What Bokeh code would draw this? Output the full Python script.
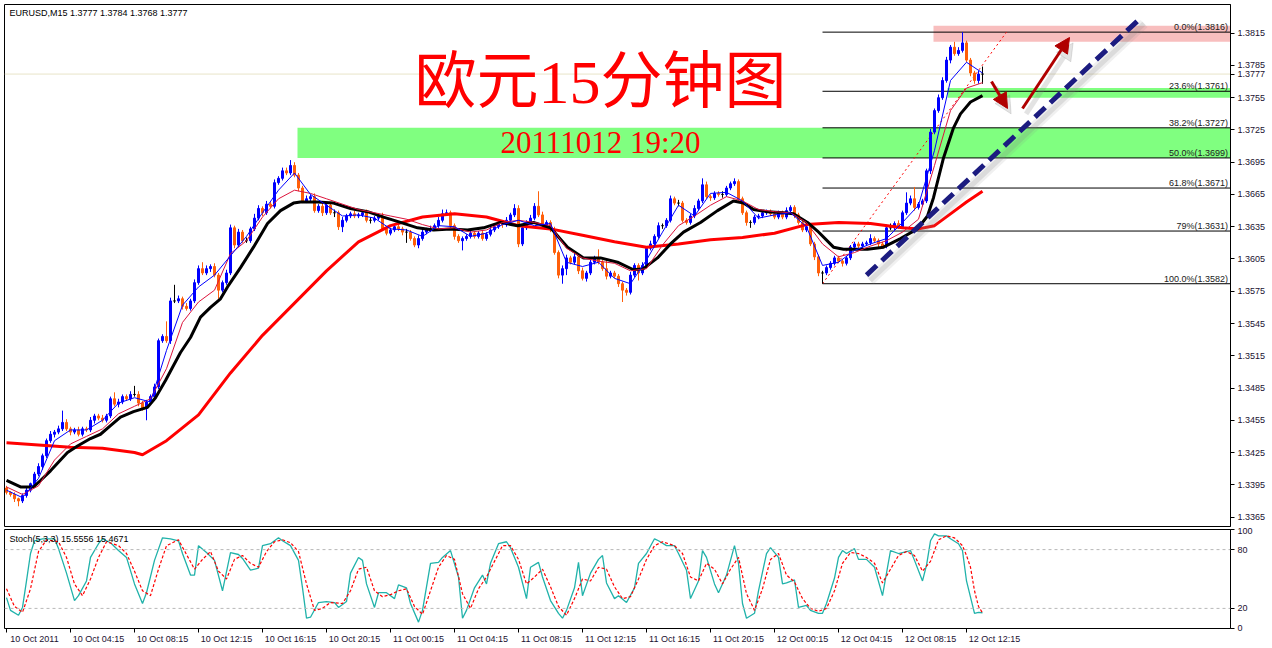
from bokeh.plotting import figure
from bokeh.layouts import column
from bokeh.models import (Range1d, LinearAxis, FixedTicker, PrintfTickFormatter,
                          Span, Label, Arrow, NormalHead)
from bokeh.core.properties import value
from bokeh.embed import file_html
from bokeh.resources import INLINE

# ---------------- data ----------------
chart_header = "EURUSD,M15  1.3777 1.3784 1.3768 1.3777"
stoch_header = "Stoch(5,3,3) 15.5556 15.4671"
title_cn = "欧元15分钟图"
title_time = "20111012 19:20"
last_price = 1.3777

first_open = 1.3392
closes = [
    1.3388, 1.3386, 1.3382, 1.3380, 1.3385, 1.3390, 1.3396, 1.3405, 1.3412, 1.3422,
    1.3436, 1.3442, 1.3444, 1.3447, 1.3453, 1.3447, 1.3444, 1.3446, 1.3442, 1.3447,
    1.3446, 1.3455, 1.3459, 1.3457, 1.3455, 1.3459, 1.3475, 1.3470, 1.3472, 1.3477,
    1.3475, 1.3479, 1.3479, 1.3471, 1.3466, 1.3472, 1.3477, 1.3486, 1.3529, 1.3533,
    1.3529, 1.3566, 1.3566, 1.3568, 1.3561, 1.3559, 1.3566, 1.3583, 1.3596, 1.3592,
    1.3596, 1.3598, 1.3590, 1.3576, 1.3583, 1.3592, 1.3634, 1.3618, 1.3630, 1.3622,
    1.3622, 1.3633, 1.3643, 1.3652, 1.3648, 1.3656, 1.3654, 1.3676, 1.3680, 1.3687,
    1.3685, 1.3692, 1.3683, 1.3671, 1.3659, 1.3661, 1.3663, 1.3650, 1.3654, 1.3648,
    1.3655, 1.3648, 1.3648, 1.3635, 1.3641, 1.3645, 1.3647, 1.3645, 1.3646, 1.3648,
    1.3641, 1.3641, 1.3643, 1.3645, 1.3633, 1.3629, 1.3632, 1.3635, 1.3633, 1.3630,
    1.3630, 1.3624, 1.3618, 1.3624, 1.3630, 1.3632, 1.3633, 1.3636, 1.3641, 1.3647,
    1.3648, 1.3636, 1.3626, 1.3622, 1.3624, 1.3626, 1.3629, 1.3626, 1.3629, 1.3624,
    1.3628, 1.3632, 1.3635, 1.3639, 1.3637, 1.3641, 1.3646, 1.3652, 1.3619, 1.3634,
    1.3639, 1.3643, 1.3654, 1.3646, 1.3636, 1.3639, 1.3632, 1.3611, 1.3590, 1.3596,
    1.3606, 1.3602, 1.3607, 1.3594, 1.3587, 1.3592, 1.3602, 1.3606, 1.3602, 1.3596,
    1.3589, 1.3592, 1.3589, 1.3582, 1.3576, 1.3574, 1.3590, 1.3599, 1.3592, 1.3599,
    1.3615, 1.3619, 1.3626, 1.3636, 1.3636, 1.3641, 1.3661, 1.3657, 1.3657, 1.3641,
    1.3639, 1.3645, 1.3652, 1.3659, 1.3674, 1.3663, 1.3662, 1.3666, 1.3665, 1.3665,
    1.3671, 1.3675, 1.3677, 1.3661, 1.3648, 1.3639, 1.3639, 1.3644, 1.3645, 1.3648,
    1.3649, 1.3647, 1.3644, 1.3648, 1.3644, 1.3650, 1.3653, 1.3646, 1.3639, 1.3632,
    1.3635, 1.3619, 1.3607, 1.3592, 1.3592, 1.3597, 1.3601, 1.3606, 1.3603, 1.3601,
    1.3606, 1.3616, 1.3619, 1.3617, 1.3619, 1.3620, 1.3624, 1.3622, 1.3619, 1.3617,
    1.3634, 1.3634, 1.3638, 1.3635, 1.3648, 1.3657, 1.3661, 1.3653, 1.3656, 1.3659,
    1.3687, 1.3723, 1.3743, 1.3755, 1.3771, 1.3790, 1.3802, 1.3796, 1.3799, 1.3806,
    1.3790, 1.3778, 1.3771, 1.3777, 1.3777,
]
# wick lengths above / below the body, in pips
wick_up = [
    2, 1, 2, 1, 2, 2, 1, 2, 3, 2, 2, 3, 2, 3, 11, 3, 2, 2, 3, 2,
    2, 3, 2, 2, 3, 2, 2, 6, 3, 2, 2, 3, 8, 3, 2, 2, 2, 3, 2, 2,
    14, 3, 15, 3, 2, 3, 2, 3, 3, 6, 3, 2, 3, 2, 2, 3, 3, 2, 3, 2,
    3, 2, 4, 3, 2, 3, 2, 3, 2, 3, 3, 5, 3, 2, 2, 3, 2, 3, 2, 3,
    2, 3, 3, 2, 3, 2, 2, 3, 2, 2, 3, 3, 2, 2, 3, 2, 2, 3, 2, 2,
    3, 2, 2, 3, 2, 2, 3, 2, 3, 4, 3, 2, 2, 2, 2, 2, 3, 2, 2, 2,
    2, 3, 2, 2, 2, 3, 2, 4, 3, 2, 2, 3, 3, 14, 3, 2, 2, 3, 2, 3,
    3, 2, 3, 2, 3, 2, 3, 2, 8, 2, 8, 2, 2, 2, 2, 2, 3, 2, 2, 3,
    2, 3, 2, 3, 2, 2, 3, 2, 3, 2, 2, 2, 3, 2, 6, 3, 2, 2, 2, 3,
    2, 2, 3, 2, 2, 2, 2, 2, 2, 2, 2, 2, 2, 2, 2, 3, 2, 2, 2, 2,
    2, 2, 2, 2, 2, 2, 2, 2, 2, 2, 2, 2, 2, 2, 2, 2, 4, 2, 2, 2,
    3, 4, 2, 3, 2, 10, 3, 11, 2, 2, 2, 3, 2, 3, 3, 3, 2, 5, 3, 10,
    2, 2, 2, 3, 7,
]
wick_dn = [
    2, 2, 3, 5, 2, 2, 2, 2, 2, 3, 2, 2, 3, 2, 2, 2, 3, 2, 2, 2,
    2, 2, 3, 2, 2, 2, 2, 2, 3, 2, 2, 2, 2, 3, 2, 11, 2, 2, 2, 2,
    2, 3, 2, 2, 3, 2, 2, 2, 2, 2, 2, 3, 2, 8, 2, 2, 2, 3, 2, 2,
    2, 2, 2, 2, 3, 2, 2, 2, 2, 2, 2, 2, 2, 3, 2, 2, 3, 2, 2, 3,
    2, 2, 4, 3, 5, 2, 2, 2, 2, 2, 2, 3, 2, 2, 2, 2, 2, 2, 2, 3,
    10, 2, 2, 3, 2, 2, 2, 2, 2, 2, 2, 2, 3, 2, 9, 2, 2, 2, 2, 2,
    2, 2, 2, 2, 3, 2, 2, 2, 3, 2, 2, 2, 2, 2, 2, 2, 2, 2, 3, 8,
    6, 2, 2, 3, 2, 3, 2, 2, 2, 2, 3, 2, 2, 3, 11, 3, 2, 2, 7, 2,
    2, 2, 2, 2, 3, 2, 2, 2, 3, 2, 2, 2, 2, 2, 2, 2, 3, 2, 2, 3,
    2, 2, 2, 2, 2, 3, 5, 2, 2, 2, 2, 2, 2, 2, 2, 2, 2, 3, 2, 2,
    2, 2, 3, 3, 10, 2, 2, 2, 2, 3, 2, 2, 2, 2, 2, 2, 2, 2, 3, 2,
    2, 2, 2, 2, 2, 2, 2, 3, 2, 2, 2, 3, 2, 2, 2, 2, 3, 2, 2, 2,
    2, 3, 3, 3, 9,
]

# moving averages: (bar, price)
ma_red = [(0, 1.3434), (8, 1.3432), (16, 1.3430), (24, 1.3429), (32, 1.3425), (34, 1.3423),
          (40, 1.3436), (48, 1.3460), (56, 1.3499), (64, 1.3534), (72, 1.3564), (80, 1.3594),
          (88, 1.3621), (96, 1.3636), (104, 1.3644), (112, 1.3647), (120, 1.3644), (128, 1.3636),
          (136, 1.3633), (144, 1.3627), (152, 1.3621), (160, 1.3616), (168, 1.3619), (176, 1.3623),
          (184, 1.3625), (192, 1.3629), (200, 1.3637), (208, 1.3639), (216, 1.3638), (224, 1.3634),
          (228, 1.3633), (232, 1.3636), (236, 1.3647), (240, 1.3658), (244, 1.3668)]
ma_black = [(0, 1.3399), (3.5, 1.3393), (6.75, 1.3393), (8.5, 1.3399), (11, 1.3408), (13.5, 1.3418),
            (15.25, 1.3425), (17.75, 1.3431), (21, 1.3438), (23.5, 1.3442), (26, 1.3450), (28.5, 1.3458),
            (31.75, 1.3463), (35.25, 1.3467), (37.25, 1.3476), (39.75, 1.3492), (41.75, 1.3506),
            (43.5, 1.3518), (46, 1.3532), (48.5, 1.3551), (51, 1.3560), (53.5, 1.3568), (55.25, 1.3579),
            (58.5, 1.3597), (61.75, 1.3616), (65.25, 1.3638), (68.5, 1.3650), (71.75, 1.3657),
            (73.5, 1.3658), (77.75, 1.3658), (81.75, 1.3657), (86, 1.3652), (90.25, 1.3649),
            (94.25, 1.3644), (98.5, 1.3639), (102.75, 1.3634), (106.75, 1.3632), (111, 1.3633),
            (115.25, 1.3632), (119.25, 1.3634), (123.5, 1.3639), (127.75, 1.3636), (131.75, 1.3639),
            (136, 1.3634), (140.25, 1.3616), (144.25, 1.3606), (148.5, 1.3606), (152.75, 1.3602),
            (156.75, 1.3595), (159.25, 1.3596), (162.75, 1.3606), (166, 1.3619), (169.25, 1.3630),
            (173.5, 1.3639), (177.75, 1.3650), (181.75, 1.3659), (184.25, 1.3657), (186.75, 1.3651),
            (190.25, 1.3649), (194.25, 1.3648), (196.75, 1.3647), (200.25, 1.3639), (202.75, 1.3631),
            (206.75, 1.3616), (209.25, 1.3614), (215.25, 1.3614), (219.25, 1.3616), (223.5, 1.3624),
            (227.75, 1.3633), (230.25, 1.3645), (231.75, 1.3662), (234.25, 1.3699), (236.75, 1.3727),
            (238.5, 1.3740), (241, 1.3751), (244, 1.3757)]
ma_crimson = [(0, 1.3393), (4, 1.3386), (8, 1.3394), (12, 1.3418), (16, 1.3433), (20, 1.3440),
              (24, 1.3447), (28, 1.3461), (32, 1.3468), (36, 1.3475), (40, 1.3503), (44, 1.3546),
              (48, 1.3565), (52, 1.3576), (56, 1.3610), (60, 1.3622), (64, 1.3644), (68, 1.3661),
              (72, 1.3669), (76, 1.3666), (80, 1.3661), (84, 1.3656), (88, 1.3651), (92, 1.3648),
              (96, 1.3645), (100, 1.3642), (104, 1.3637), (108, 1.3633), (112, 1.3634), (116, 1.3630),
              (120, 1.3632), (124, 1.3639), (128, 1.3641), (132, 1.3639), (136, 1.3636), (140, 1.3615),
              (144, 1.3606), (148, 1.3603), (152, 1.3601), (156, 1.3594), (160, 1.3596), (164, 1.3618),
              (168, 1.3636), (172, 1.3645), (176, 1.3655), (180, 1.3663), (184, 1.3659), (188, 1.3651),
              (192, 1.3649), (196, 1.3648), (200, 1.3639), (204, 1.3619), (208, 1.3607), (212, 1.3611),
              (216, 1.3617), (220, 1.3622), (224, 1.3630), (228, 1.3642), (232, 1.3692), (236, 1.3743),
              (240, 1.3764), (244, 1.3769)]
ma_blue = [(0, 1.3390), (4, 1.3383), (8, 1.3401), (12, 1.3436), (16, 1.3446), (20, 1.3446),
           (24, 1.3455), (28, 1.3471), (32, 1.3476), (36, 1.3472), (40, 1.3520), (44, 1.3562),
           (48, 1.3579), (52, 1.3590), (56, 1.3608), (60, 1.3626), (64, 1.3648), (68, 1.3669),
           (72, 1.3685), (76, 1.3665), (80, 1.3655), (84, 1.3645), (88, 1.3646), (92, 1.3643),
           (96, 1.3633), (100, 1.3632), (104, 1.3626), (108, 1.3636), (112, 1.3635), (116, 1.3626),
           (120, 1.3629), (124, 1.3637), (128, 1.3641), (132, 1.3636), (136, 1.3638), (140, 1.3602),
           (144, 1.3598), (148, 1.3602), (152, 1.3587), (156, 1.3582), (160, 1.3604), (164, 1.3630),
           (168, 1.3655), (172, 1.3645), (176, 1.3666), (180, 1.3667), (184, 1.3659), (188, 1.3643),
           (192, 1.3646), (196, 1.3648), (200, 1.3635), (204, 1.3599), (208, 1.3602), (212, 1.3613),
           (216, 1.3619), (220, 1.3624), (224, 1.3639), (228, 1.3655), (232, 1.3706), (236, 1.3771),
           (240, 1.3788), (244, 1.3778)]

# stochastic (bar, value)
stoch_main = [(0, 31), (1, 18), (3, 13), (4, 21), (5, 48), (6, 76), (7, 89), (9, 91), (12, 91),
              (13, 81), (15, 56), (17, 28), (18, 33), (20, 48), (21, 72), (23, 86), (24, 91), (26, 87),
              (28, 79), (30, 72), (32, 45), (34, 25), (35, 36), (37, 69), (39, 92), (41, 91), (43, 89),
              (44, 76), (46, 54), (47, 54), (48, 84), (50, 77), (52, 69), (54, 38), (56, 77), (58, 75),
              (59, 71), (61, 59), (63, 61), (64, 84), (66, 86), (68, 92), (69, 89), (71, 84), (73, 69),
              (74, 41), (75, 10), (76, 11), (78, 26), (80, 27), (82, 26), (83, 21), (85, 27), (86, 56),
              (88, 72), (89, 69), (90, 45), (92, 21), (93, 36), (95, 36), (97, 30), (98, 44), (100, 41),
              (101, 25), (103, 6), (104, 18), (106, 66), (108, 67), (109, 72), (111, 79), (113, 52),
              (114, 10), (115, 18), (117, 41), (119, 54), (120, 45), (121, 66), (123, 86), (125, 88),
              (126, 82), (128, 62), (130, 30), (131, 62), (133, 67), (134, 52), (136, 28), (138, 15),
              (139, 10), (140, 18), (142, 41), (143, 67), (144, 33), (146, 56), (148, 70), (149, 74),
              (150, 46), (152, 30), (153, 33), (155, 26), (157, 41), (158, 66), (160, 76), (162, 91),
              (163, 89), (165, 84), (167, 84), (168, 76), (170, 59), (171, 30), (173, 48), (174, 79),
              (175, 72), (177, 45), (178, 36), (180, 54), (182, 84), (183, 66), (184, 25), (185, 10),
              (187, 15), (188, 38), (190, 76), (191, 82), (193, 72), (194, 45), (195, 46), (197, 49),
              (198, 21), (200, 23), (201, 18), (203, 15), (204, 15), (205, 25), (207, 51), (208, 72),
              (209, 79), (210, 76), (212, 81), (213, 70), (215, 70), (217, 62), (219, 33), (220, 56),
              (221, 79), (223, 76), (224, 77), (226, 79), (227, 69), (229, 48), (230, 64), (231, 89),
              (232, 96), (233, 94), (235, 94), (236, 91), (238, 86), (239, 79), (240, 48), (242, 15),
              (243, 16), (244, 15.5556)]
stoch_signal = [(0, 40), (2, 22), (4, 16), (6, 40), (8, 78), (10, 90), (13, 88), (15, 72), (17, 45),
                (19, 33), (21, 50), (23, 72), (25, 88), (28, 84), (30, 76), (32, 58), (34, 38), (36, 33),
                (38, 60), (40, 84), (43, 90), (45, 75), (47, 60), (49, 70), (51, 78), (53, 58), (55, 50),
                (57, 70), (59, 74), (61, 66), (63, 62), (65, 78), (67, 88), (69, 90), (71, 87), (73, 78),
                (75, 45), (77, 18), (79, 20), (81, 26), (84, 25), (86, 38), (88, 60), (90, 62), (92, 38),
                (94, 32), (96, 34), (98, 38), (100, 40), (102, 22), (104, 14), (106, 38), (108, 62),
                (110, 74), (112, 70), (114, 35), (116, 20), (118, 40), (120, 52), (122, 68), (124, 84),
                (126, 84), (128, 70), (130, 45), (132, 52), (134, 60), (136, 42), (138, 22), (140, 13),
                (142, 30), (144, 50), (146, 48), (148, 62), (150, 60), (152, 42), (154, 30), (156, 32),
                (158, 50), (160, 70), (162, 84), (164, 88), (167, 84), (169, 76), (171, 52), (173, 48),
                (175, 66), (177, 60), (179, 45), (181, 60), (183, 72), (185, 35), (187, 18), (189, 40),
                (191, 70), (193, 76), (195, 54), (197, 47), (199, 30), (201, 20), (203, 17), (205, 20),
                (207, 38), (209, 66), (211, 77), (213, 76), (215, 72), (217, 66), (219, 46), (221, 60),
                (223, 74), (225, 78), (227, 74), (229, 58), (231, 68), (233, 90), (235, 94), (237, 92),
                (239, 84), (240, 74), (241, 62), (242, 38), (243, 22), (244, 15.4671)]

# Fibonacci retracement
fib_levels = [1.3816, 1.3761, 1.3727, 1.3699, 1.3671, 1.3631, 1.3582]
fib_names = ["0.0%", "23.6%", "38.2%", "50.0%", "61.8%", "79%", "100.0%"]
fib_anchor_bar = 204
fib_trend_bars = [204, 250]
fib_trend_prices = [1.3582, 1.3816]

# highlighted zones (left bar, bottom price, top price)
zone_left = [72.75, 235.25, 231.75]
zone_bottom = [1.3699, 1.3755, 1.3807]
zone_top = [1.3727, 1.3764, 1.3822]

# hand-drawn trend line and arrows
trend_bars = [215, 283.5]
trend_prices = [1.3590, 1.3829]
arrow_down = (246.25, 1.3770, 250.25, 1.3745)
arrow_up = (254.0, 1.3745, 265.75, 1.3811)

price_ticks = [1.3365, 1.3395, 1.3425, 1.3455, 1.3485, 1.3515, 1.3545, 1.3575,
               1.3605, 1.3635, 1.3665, 1.3695, 1.3725, 1.3755, 1.3785, 1.3815]
time_tick_bars = [0, 16, 32, 48, 64, 80, 96, 112, 128, 144, 160, 176, 192, 208, 224, 240]
time_tick_labels = ["10 Oct 2011", "10 Oct 04:15", "10 Oct 08:15", "10 Oct 12:15",
                    "10 Oct 16:15", "10 Oct 20:15", "11 Oct 00:15", "11 Oct 04:15",
                    "11 Oct 08:15", "11 Oct 12:15", "11 Oct 16:15", "11 Oct 20:15",
                    "12 Oct 00:15", "12 Oct 04:15", "12 Oct 08:15", "12 Oct 12:15"]

# ---------------- derived ----------------
bars = list(range(len(closes)))
opens = [first_open] + closes[:-1]
highs = [max(o, c) + u / 10000 for o, c, u in zip(opens, closes, wick_up)]
lows = [min(o, c) - d / 10000 for o, c, d in zip(opens, closes, wick_dn)]
UP, DOWN, DOJI = "#0000FF", "#FF5F0A", "#000000"
colors = [UP if c > o else (DOWN if c < o else DOJI) for o, c in zip(opens, closes)]

FONT = "Liberation Sans"
W = 1272
X_RANGE = Range1d(-0.5, 306)
RIGHT_EDGE = 306
EXT = 330
SH_DX, SH_DY = 0.9, -0.0005

main = figure(width=W, height=527, x_range=X_RANGE, y_range=Range1d(1.33562, 1.38417),
              output_backend="svg", toolbar_location=None,
              x_axis_location=None, y_axis_location=None,
              min_border_left=4, min_border_right=42, min_border_top=4, min_border_bottom=1,
              outline_line_color="black", outline_line_width=1,
              background_fill_color="white", border_fill_color="white")
main.grid.visible = False

# zones
main.quad(left=zone_left, right=[EXT] * 3, bottom=zone_bottom, top=zone_top,
          fill_color=["#80FF80", "#80FF80", "#F8BEBE"], line_color=None)
main.add_layout(Span(location=last_price, dimension="width", line_color="#E8E4C8",
                     line_width=1, level="underlay"))
# fib lines
main.segment(x0=[fib_anchor_bar] * len(fib_levels), x1=[EXT] * len(fib_levels),
             y0=fib_levels, y1=fib_levels, line_color="black", line_width=1)
main.line(fib_trend_bars, fib_trend_prices, line_color="#FF0000", line_width=1, line_dash="2 3")

# candles
main.segment(x0=bars, x1=bars, y0=lows, y1=highs, line_color=colors, line_width=1)
main.vbar(x=bars, width=0.5, top=[max(o, c) for o, c in zip(opens, closes)],
          bottom=[min(o, c) for o, c in zip(opens, closes)],
          fill_color=colors, line_color=colors, line_width=1)

# moving averages
main.line([b for b, _ in ma_red], [v for _, v in ma_red], line_color="#FF0000", line_width=3)
main.line([b for b, _ in ma_black], [v for _, v in ma_black], line_color="#000000", line_width=3)
main.line([b for b, _ in ma_crimson], [v for _, v in ma_crimson], line_color="#DC143C", line_width=1)
main.line([b for b, _ in ma_blue], [v for _, v in ma_blue], line_color="#0000FF", line_width=1)

# fib labels
main.text(x=[RIGHT_EDGE - 0.6] * len(fib_levels), y=fib_levels,
          text=[f"{n}({v:.4f})" for n, v in zip(fib_names, fib_levels)],
          text_align="right", text_baseline="bottom", text_font=value(FONT),
          text_font_size="9px", text_color="#202020")

# trend line with soft shadow
main.line([b + SH_DX for b in trend_bars], [p + SH_DY for p in trend_prices],
          line_color="#808080", line_alpha=0.12, line_width=10)
main.line([b + SH_DX for b in trend_bars], [p + SH_DY for p in trend_prices],
          line_color="#808080", line_alpha=0.18, line_width=5)
main.line(trend_bars, trend_prices, line_color="#1C1C80", line_width=5, line_dash="14 7")

# arrows with shadow
for a in (arrow_down, arrow_up):
    main.add_layout(Arrow(x_start=a[0] + SH_DX, y_start=a[1] + SH_DY, x_end=a[2] + SH_DX, y_end=a[3] + SH_DY,
                          line_color="#808080", line_alpha=0.22, line_width=5,
                          end=NormalHead(size=17, fill_color="#808080", fill_alpha=0.22,
                                         line_color="#808080", line_alpha=0.22)))
    main.add_layout(Arrow(x_start=a[0], y_start=a[1], x_end=a[2], y_end=a[3],
                          line_color="#B00000", line_width=3,
                          end=NormalHead(size=15, fill_color="#B00000", line_color="#B00000")))

# right price axis (with the current price marked on it)
yax = LinearAxis(ticker=FixedTicker(ticks=price_ticks + [last_price]),
                 formatter=PrintfTickFormatter(format="%.4f"),
                 major_tick_out=4, major_tick_in=0, minor_tick_out=0, minor_tick_in=0,
                 axis_line_color="black", major_tick_line_color="black",
                 major_label_text_font=FONT, major_label_text_font_size="9px",
                 major_label_text_color="#1a1030", major_label_standoff=3)
main.add_layout(yax, "right")

# texts
main.add_layout(Label(x=-0.5, y=1.38417, x_offset=5, y_offset=-3, text=chart_header,
                      text_font=FONT, text_font_size="9px", text_color="black", text_baseline="top"))
main.add_layout(Label(x=148.5, y=1.37692, text=title_cn, text_align="center", text_baseline="middle",
                      text_font="Liberation Serif, Noto Sans CJK SC", text_font_size="62px",
                      text_color="#FF0000"))
main.add_layout(Label(x=148.5, y=1.37133, text=title_time, text_align="center", text_baseline="middle",
                      text_font="Liberation Serif", text_font_size="31px", text_color="#FF0000"))

# ---------------- stochastic panel ----------------
stoch = figure(width=W, height=120, x_range=X_RANGE, y_range=Range1d(-0.5, 100.5),
               output_backend="svg", toolbar_location=None,
               x_axis_location=None, y_axis_location=None,
               min_border_left=4, min_border_right=42, min_border_top=2, min_border_bottom=19,
               outline_line_color="black", outline_line_width=1,
               background_fill_color="white", border_fill_color="white")
stoch.grid.visible = False
for lvl in (20, 80):
    stoch.add_layout(Span(location=lvl, dimension="width", line_color="#B8B8B8",
                          line_width=1, line_dash="3 3"))
stoch.line([b for b, _ in stoch_main], [v for _, v in stoch_main], line_color="#20B2AA", line_width=1.3)
stoch.line([b for b, _ in stoch_signal], [v for _, v in stoch_signal], line_color="#FF0000",
           line_width=1.2, line_dash="3 2")
stoch.add_layout(Label(x=-0.5, y=100.5, x_offset=5, y_offset=-4, text=stoch_header,
                       text_font=FONT, text_font_size="9px", text_color="black", text_baseline="top"))

sax = LinearAxis(ticker=FixedTicker(ticks=[0, 20, 80, 100]),
                 major_tick_out=4, major_tick_in=0, minor_tick_out=0, minor_tick_in=0,
                 axis_line_color="black", major_label_text_font=FONT, major_label_text_font_size="9px",
                 major_label_text_color="#1a1030", major_label_standoff=3)
stoch.add_layout(sax, "right")

tick_axis = LinearAxis(ticker=FixedTicker(ticks=time_tick_bars), major_tick_out=4, major_tick_in=0,
                       minor_tick_out=0, minor_tick_in=0, axis_line_color=None,
                       major_label_text_font_size="0px", major_label_standoff=0,
                       major_label_overrides={b: "" for b in time_tick_bars})
stoch.add_layout(tick_axis, "below")
label_pos = [b + 7 for b in time_tick_bars]
label_axis = LinearAxis(ticker=FixedTicker(ticks=label_pos), major_tick_out=0, major_tick_in=0,
                        minor_tick_out=0, minor_tick_in=0, axis_line_color=None,
                        major_label_text_font=FONT, major_label_text_font_size="9px",
                        major_label_text_color="#1a1030", major_label_standoff=1,
                        major_label_overrides={p: t for p, t in zip(label_pos, time_tick_labels)})
stoch.add_layout(label_axis, "below")

layout = column(main, stoch, spacing=0)
open("out.html", "w").write(file_html(layout, INLINE))
